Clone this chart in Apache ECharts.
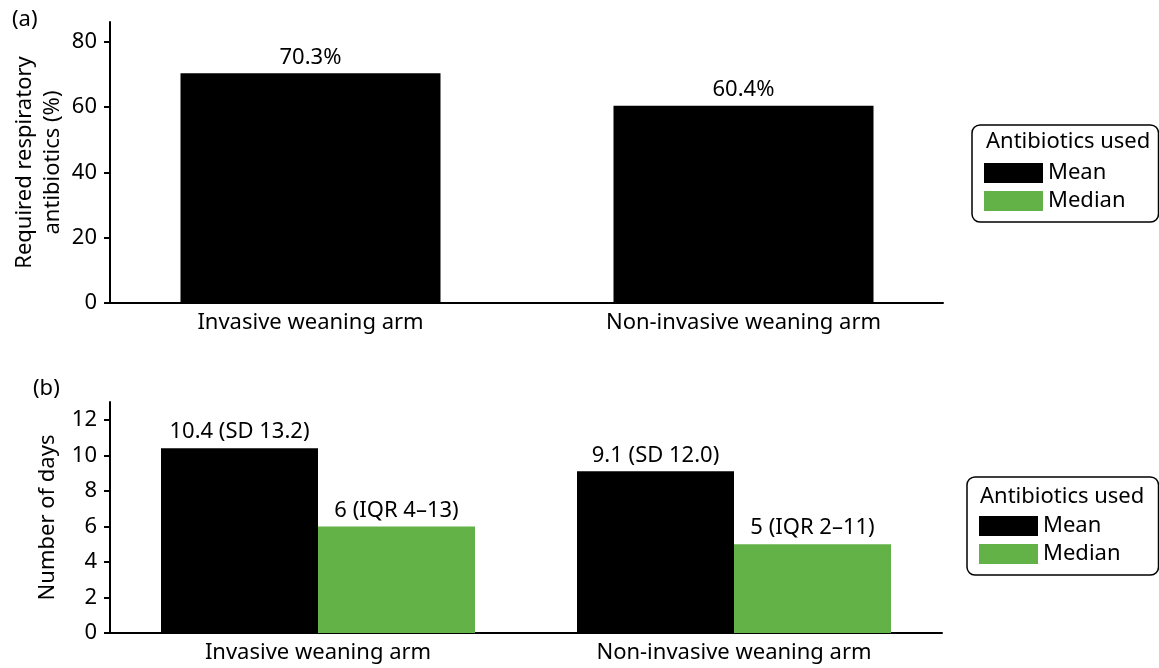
<!DOCTYPE html>
<html lang="en">
<head>
    <meta charset="UTF-8">
    <title>Antibiotics used</title>
    <script src="https://cdnjs.cloudflare.com/ajax/libs/echarts/6.0.0/echarts.min.js"></script>
    <style>
        body { margin: 0; padding: 0; background: #fff; }
        #main { width: 1159px; height: 668px; }
    </style>
</head>
<body>
    <div id="main"></div>
    <script>
        const arms = ['Invasive weaning arm', 'Non-invasive weaning arm'];
        // (a) percentage requiring respiratory antibiotics
        const pctRequired = [70.3, 60.4];
        const pctTicks = [0, 20, 40, 60, 80];
        // (b) days of antibiotics
        const meanDays = [10.4, 9.1];
        const meanLabels = ['10.4 (SD 13.2)', '9.1 (SD 12.0)'];
        const medianDays = [6, 5];
        const medianLabels = ['6 (IQR 4–13)', '5 (IQR 2–11)'];
        const dayTicks = [0, 2, 4, 6, 8, 10, 12];

        const FONT = 'Noto Sans';
        const GREEN = '#63b247';
        const PCT_MAX = 86;

        const txt = (size) => ({ fontFamily: FONT, fontSize: size, color: '#000' });

        function valueAxis(grid, max, ticks, name, gap) {
            return {
                type: 'value', gridIndex: grid, min: 0, max: max,
                name: name, nameLocation: 'middle', nameGap: gap, nameRotate: 90,
                nameMoveOverlap: false,
                nameTextStyle: Object.assign(txt(22), { lineHeight: 28 }),
                axisLine: { show: true, lineStyle: { color: '#000', width: 2 } },
                axisTick: { show: true, length: 6, customValues: ticks, lineStyle: { color: '#000', width: 2 } },
                axisLabel: Object.assign(txt(22), { margin: 13, customValues: ticks }),
                splitLine: { show: false }
            };
        }
        function catAxis(grid, showLine, showLabel) {
            return {
                type: 'category', gridIndex: grid, data: arms,
                axisLine: { show: showLine, lineStyle: { color: '#000', width: 2 } },
                axisTick: { show: false },
                axisLabel: Object.assign(txt(22), { show: showLabel, margin: 9 })
            };
        }
        function legendBox(left, top, padTop, padRight) {
            return {
                orient: 'vertical', left: left, top: top,
                data: ['Mean', 'Median'], selectedMode: false,
                icon: 'rect', itemWidth: 59, itemHeight: 20, itemGap: 6, itemTextGap: 6,
                textStyle: txt(22),
                borderColor: '#000', borderWidth: 1.5, borderRadius: 8,
                padding: [padTop, padRight, 10, 12]
            };
        }

        const chart = echarts.init(document.getElementById('main'));
        chart.setOption({
            animation: false,
            grid: [
                // (a) axes frame
                { left: 110, top: 22, right: 216, bottom: 365 },
                // (a) bars, slightly wider band
                { left: 94, top: 22, right: 199, bottom: 365 },
                // (b)
                { left: 110, top: 402, right: 217, bottom: 35 }
            ],
            xAxis: [catAxis(0, true, false), catAxis(1, false, true), catAxis(2, true, true)],
            yAxis: [
                valueAxis(0, PCT_MAX, pctTicks, 'Required respiratory\nantibiotics (%)', 43),
                { type: 'value', gridIndex: 1, min: 0, max: PCT_MAX, show: false },
                valueAxis(2, 13, dayTicks, 'Number of days', 48)
            ],
            legend: [legendBox(972, 125, 37, 33), legendBox(967, 477, 38, 38)],
            series: [
                {
                    name: 'Mean', type: 'bar', xAxisIndex: 1, yAxisIndex: 1,
                    data: pctRequired, barWidth: 260, itemStyle: { color: '#000' },
                    label: Object.assign(txt(22), { show: true, position: 'top', distance: 5, formatter: '{c}%' })
                },
                {
                    name: 'Mean', type: 'bar', xAxisIndex: 2, yAxisIndex: 2,
                    data: meanDays, barWidth: 157, barGap: '0%', itemStyle: { color: '#000' },
                    label: Object.assign(txt(22), { show: true, position: 'top', distance: 5,
                        formatter: p => meanLabels[p.dataIndex] })
                },
                {
                    name: 'Median', type: 'bar', xAxisIndex: 2, yAxisIndex: 2,
                    data: medianDays, barWidth: 157, barGap: '0%', itemStyle: { color: GREEN },
                    label: Object.assign(txt(22), { show: true, position: 'top', distance: 5,
                        formatter: p => medianLabels[p.dataIndex] })
                }
            ],
            graphic: [
                { type: 'text', left: 12, top: 9, style: { text: '(a)', font: '22px "Noto Sans"', fill: '#000' } },
                { type: 'text', left: 33, top: 378, style: { text: '(b)', font: '22px "Noto Sans"', fill: '#000' } },
                { type: 'text', left: 986, top: 131, style: { text: 'Antibiotics used', font: '22px "Noto Sans"', fill: '#000' } },
                { type: 'text', left: 980, top: 486, style: { text: 'Antibiotics used', font: '22px "Noto Sans"', fill: '#000' } }
            ]
        });
    </script>
</body>
</html>
